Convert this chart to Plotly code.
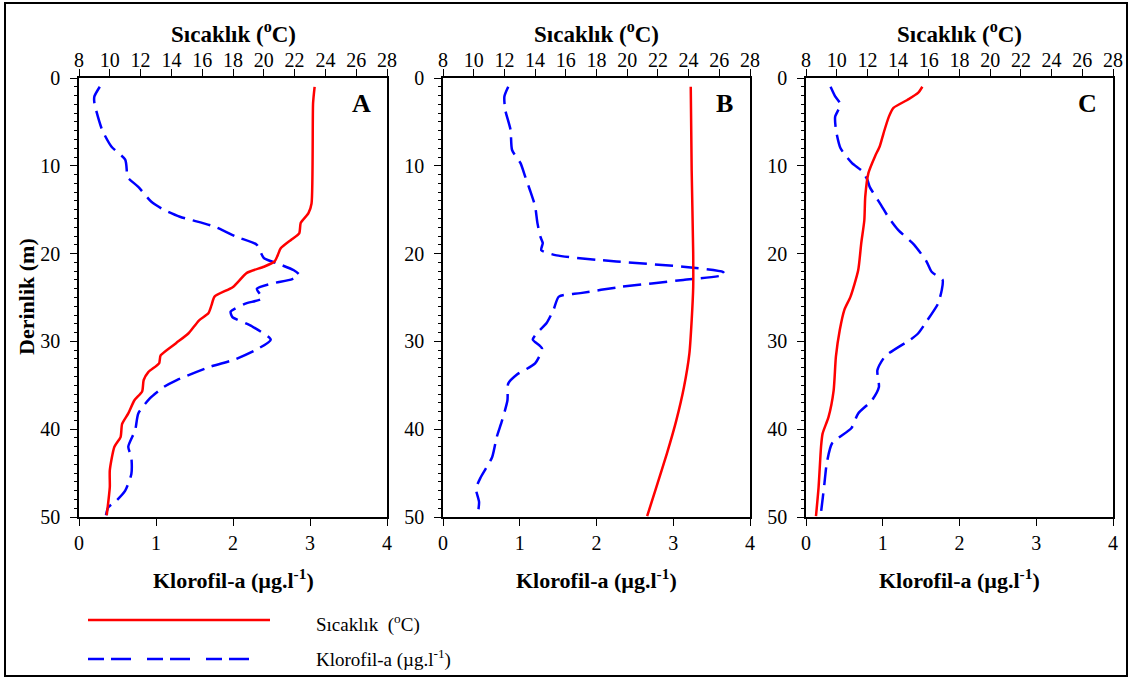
import plotly.graph_objects as go

# ---------------- data ----------------
# Panel A
a_temp_depth = [1.0, 2.85, 14.3, 15.4, 16.5, 17.7, 18.4, 19.4, 20.2, 20.9, 21.5, 22.2, 23.8, 24.9, 25.9, 26.8, 27.6, 29.1, 30.2, 31.6, 32.5, 33.5, 34.4, 35.7, 36.7, 38.2, 39.4, 40.9, 42.0, 44.7, 46.6, 49.8]
a_temp = [23.3, 23.2, 23.1, 22.9, 22.4, 22.3, 21.8, 21.1, 20.9, 20.7, 20.0, 18.9, 18.0, 16.8, 16.6, 16.4, 15.8, 15.1, 14.3, 13.3, 13.2, 12.5, 12.2, 12.1, 11.6, 11.2, 10.8, 10.7, 10.3, 10.0, 10.0, 9.8]
a_chl_depth = [1.0, 2.1, 2.85, 5.9, 7.8, 9.3, 10.5, 11.2, 12.4, 14.1, 15.0, 15.8, 16.9, 18.1, 19.0, 20.5, 21.1, 21.9, 22.4, 22.9, 23.4, 24.0, 25.1, 25.7, 26.6, 27.2, 28.3, 29.8, 31.0, 32.1, 32.9, 34.4, 35.2, 36.5, 38.2, 40.1, 42.0, 43.2, 45.1, 47.0, 48.1, 48.9, 49.8]
a_chl = [0.27, 0.20, 0.20, 0.30, 0.42, 0.60, 0.62, 0.62, 0.77, 0.94, 1.10, 1.31, 1.75, 2.05, 2.31, 2.40, 2.57, 2.79, 2.86, 2.77, 2.51, 2.31, 2.38, 2.16, 1.97, 1.99, 2.25, 2.49, 2.29, 2.01, 1.70, 1.27, 1.10, 0.92, 0.77, 0.73, 0.64, 0.68, 0.68, 0.60, 0.49, 0.38, 0.35]

# Panel B
b_temp_depth = [1.0, 10.5, 20.0, 23.8, 27.6, 31.4, 35.2, 39.0, 42.7, 46.6, 49.9]
b_temp = [24.14, 24.2, 24.3, 24.3, 24.2, 24.05, 23.7, 23.2, 22.6, 21.9, 21.3]
b_chl_depth = [1.0, 2.1, 3.6, 5.9, 8.2, 9.7, 11.2, 12.7, 14.6, 16.5, 18.1, 18.8, 19.6, 20.2, 20.9, 21.5, 22.1, 22.4, 23.0, 23.8, 24.5, 24.9, 26.4, 27.9, 29.1, 29.8, 30.8, 32.5, 33.8, 34.8, 36.7, 39.0, 40.9, 43.2, 45.5, 46.8, 48.3, 49.9]
b_chl = [0.85, 0.80, 0.81, 0.88, 0.90, 1.01, 1.07, 1.13, 1.20, 1.23, 1.27, 1.30, 1.28, 1.48, 2.26, 3.13, 3.65, 3.67, 3.13, 2.31, 1.79, 1.51, 1.44, 1.35, 1.22, 1.17, 1.29, 1.20, 0.96, 0.85, 0.84, 0.77, 0.70, 0.64, 0.49, 0.43, 0.47, 0.45]

# Panel C
c_temp_depth = [1.0, 1.7, 2.5, 3.4, 4.4, 6.3, 7.8, 8.9, 10.8, 13.5, 16.2, 18.8, 21.9, 24.9, 26.4, 28.7, 31.7, 35.6, 38.6, 40.5, 42.0, 46.6, 49.9]
c_temp = [15.58, 15.3, 14.6, 13.7, 13.4, 13.05, 12.8, 12.5, 12.07, 11.86, 11.8, 11.6, 11.4, 10.9, 10.5, 10.2, 9.95, 9.8, 9.47, 9.08, 8.98, 8.82, 8.65]
c_chl_depth = [1.0, 2.1, 3.0, 4.4, 5.9, 8.0, 9.7, 10.6, 11.6, 12.4, 14.5, 15.8, 17.3, 19.0, 20.9, 22.1, 23.0, 24.1, 25.7, 27.6, 29.1, 29.8, 31.7, 33.3, 35.2, 36.7, 38.2, 39.9, 41.6, 43.9, 46.2, 47.7, 49.9]
c_chl = [0.32, 0.38, 0.45, 0.38, 0.39, 0.45, 0.60, 0.73, 0.80, 0.83, 0.98, 1.07, 1.20, 1.41, 1.57, 1.64, 1.78, 1.77, 1.72, 1.58, 1.46, 1.36, 1.03, 0.93, 0.95, 0.86, 0.68, 0.59, 0.34, 0.27, 0.24, 0.22, 0.19]

panel_letters = ["A", "B", "C"]
temp_ticks = [8, 10, 12, 14, 16, 18, 20, 22, 24, 26, 28]
chl_ticks = [0, 1, 2, 3, 4]
depth_ticks = [0, 10, 20, 30, 40, 50]

# ---------------- layout helpers ----------------
W, H = 1129, 679
FONT = "Liberation Serif, Times New Roman, serif"
RED = "#ff0000"
BLUE = "#0000ff"
TICK_SIZE = 20
TITLE_SIZE = 22


def px(x):
    return x / W


def py(y):
    return 1 - y / H


panel_px = [(79, 387), (443, 750), (806, 1113)]
top_px, bot_px = 78, 517

fig = go.Figure()
layout = dict(
    width=W, height=H,
    margin=dict(l=0, r=0, t=0, b=0, autoexpand=False),
    paper_bgcolor="white", plot_bgcolor="white",
    showlegend=False,
    font=dict(family=FONT, color="black", size=16),
)

panels = [
    (a_temp_depth, a_temp, a_chl_depth, a_chl),
    (b_temp_depth, b_temp, b_chl_depth, b_chl),
    (c_temp_depth, c_temp, c_chl_depth, c_chl),
]

annotations = []
for i, (td, tv, cd, cv) in enumerate(panels):
    xb = 2 * i + 1          # bottom axis index
    xt = 2 * i + 2          # top axis index
    yi = i + 1
    xb_name = "x" if xb == 1 else f"x{xb}"
    xt_name = f"x{xt}"
    y_name = "y" if yi == 1 else f"y{yi}"
    dom = [px(panel_px[i][0]), px(panel_px[i][1])]

    axis_common = dict(showgrid=False, zeroline=False, showline=True,
                       linecolor="black", linewidth=1.5, automargin=False,
                       tickfont=dict(family=FONT, size=TICK_SIZE, color="black"),
                       ticks="outside", tickcolor="black", tickwidth=1.2)

    layout["xaxis" if xb == 1 else f"xaxis{xb}"] = dict(
        axis_common, domain=dom, anchor=y_name, range=[0, 4],
        tickvals=chl_ticks, ticklen=7, side="bottom", mirror=False,
        ticklabelstandoff=0)
    layout[f"xaxis{xt}"] = dict(
        axis_common, domain=dom, anchor=y_name, overlaying=xb_name,
        range=[8, 28], tickvals=temp_ticks, ticklen=7, side="top", mirror=False,
        ticklabelstandoff=-6)
    layout["yaxis" if yi == 1 else f"yaxis{yi}"] = dict(
        axis_common, domain=[py(bot_px), py(top_px)], anchor=xb_name,
        range=[50, 0], tickvals=depth_ticks, ticklen=7, mirror=True,
        ticklabelstandoff=6,
        minor=dict(dtick=1, ticklen=3, ticks="outside", tickcolor="black", tickwidth=1))

    fig.add_trace(go.Scatter(x=tv, y=td, xaxis=xt_name, yaxis=y_name, mode="lines",
                             line=dict(color=RED, width=2.5, shape="spline", smoothing=0.6),
                             name="Sıcaklık"))
    fig.add_trace(go.Scatter(x=cv, y=cd, xaxis=xb_name, yaxis=y_name, mode="lines",
                             line=dict(color=BLUE, width=2.5, dash="18px,8px",
                                       shape="spline", smoothing=0.6),
                             name="Klorofil-a"))

    cx = (panel_px[i][0] + panel_px[i][1]) / 2
    annotations.append(dict(x=px(cx), y=py(32), xref="paper", yref="paper",
                            text="<b>Sıcaklık (<sup>o</sup>C)</b>", showarrow=False,
                            font=dict(family=FONT, size=23, color="black"),
                            xanchor="center", yanchor="middle"))
    annotations.append(dict(x=px(cx), y=py(579), xref="paper", yref="paper",
                            text="<b>Klorofil-a (µg.l<sup>-1</sup>)</b>", showarrow=False,
                            font=dict(family=FONT, size=TITLE_SIZE, color="black"),
                            xanchor="center", yanchor="middle"))
    annotations.append(dict(x=px(panel_px[i][1] - 26), y=py(103), xref="paper", yref="paper",
                            text=f"<b>{panel_letters[i]}</b>", showarrow=False,
                            font=dict(family=FONT, size=26, color="black"),
                            xanchor="center", yanchor="middle"))

annotations.append(dict(x=px(26), y=py(297), xref="paper", yref="paper",
                        text="<b>Derinlik (m)</b>", showarrow=False, textangle=-90,
                        font=dict(family=FONT, size=TITLE_SIZE, color="black"),
                        xanchor="center", yanchor="middle"))
annotations.append(dict(x=px(314), y=py(623), xref="paper", yref="paper",
                        text="Sıcaklık  (<sup>o</sup>C)", showarrow=False,
                        font=dict(family=FONT, size=19, color="black"),
                        xanchor="left", yanchor="middle"))
annotations.append(dict(x=px(314), y=py(658), xref="paper", yref="paper",
                        text="Klorofil-a (µg.l<sup>-1</sup>)", showarrow=False,
                        font=dict(family=FONT, size=19, color="black"),
                        xanchor="left", yanchor="middle"))

shapes = [
    dict(type="rect", xref="paper", yref="paper", x0=px(5), x1=px(1127), y0=py(676), y1=py(3),
         line=dict(color="black", width=2), fillcolor="rgba(0,0,0,0)", layer="below"),
    dict(type="line", xref="paper", yref="paper", x0=px(88), x1=px(270), y0=py(620), y1=py(620),
         line=dict(color=RED, width=2.5)),
    dict(type="line", xref="paper", yref="paper", x0=px(88), x1=px(254), y0=py(659), y1=py(659),
         line=dict(color=BLUE, width=2.5, dash="16px,7px,20px,16px")),
]

layout["annotations"] = annotations
layout["shapes"] = shapes
fig.update_layout(**layout)
fig.write_html("out.html")
